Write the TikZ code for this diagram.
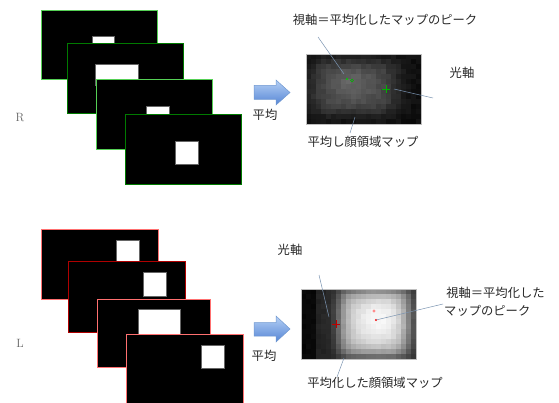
\documentclass[tikz,border=0pt]{standalone}
\usepackage{fontspec}
\newfontfamily\jp{Noto Sans CJK JP}
\usetikzlibrary{calc}
\definecolor{gLight}{HTML}{55D055}
\definecolor{gDark}{HTML}{007A00}
\definecolor{rLight}{HTML}{FF7070}
\definecolor{rDark}{HTML}{B00000}
\definecolor{leader}{HTML}{7A93B0}
\definecolor{arrTop}{HTML}{B5D0F5}
\definecolor{arrBot}{HTML}{5585D5}
\definecolor{arrLine}{HTML}{7098D0}
\tikzset{
  frame/.style={fill=black,line width=0.9pt},
  hole/.style={fill=white,draw=black!60,line width=0.6pt},
  jlabel/.style={font=\jp\fontsize{12.3}{15}\selectfont,text=black!85,inner sep=0pt},
  side/.style={font=\fontsize{12}{14}\selectfont,text=black!60,inner sep=0pt},
  lead/.style={draw=leader,line width=0.5pt},
  bigarrow/.style={top color=arrTop,bottom color=arrBot,draw=arrLine,line width=0.5pt}
}
\begin{document}
\begin{tikzpicture}[x=1pt,y=-1pt]
\useasboundingbox (0,0) rectangle (559,403);
\pgfmathsetseed{7}
% ---------- R frames
\draw[frame,draw=gLight] (41,10) rectangle (157,79);
\draw[hole] (92,36) rectangle (114,48);
\draw[frame,draw=gDark] (67,43) rectangle (183,113);
\draw[hole] (95,64) rectangle (138,85);
\draw[frame,draw=gLight] (96,79) rectangle (212,149);
\draw[hole] (146,106) rectangle (169,118);
\draw[frame,draw=gDark] (125,114) rectangle (241,184);
\draw[hole] (175,141) rectangle (198,164);
\node[side] (R) at (20,118) {R};
% ---------- L frames
\draw[frame,draw=rLight] (41,229) rectangle (158,299);
\draw[hole] (116,240) rectangle (139,264);
\draw[frame,draw=rDark] (68,261) rectangle (185,332);
\draw[hole] (143,272) rectangle (166,296);
\draw[frame,draw=rLight] (97,299) rectangle (210,367);
\draw[hole] (138,309) rectangle (180,340);
\draw[frame,draw=rLight] (126,334) rectangle (243,406);
\draw[hole] (201,345) rectangle (224,368);
\node[side] (L) at (20,343) {L};
% ---------- arrows
\shadedraw[bigarrow] (254,85.5) -- (276,85.5) -- (276,80) -- (290,92.5) -- (276,105) -- (276,99.5) -- (254,99.5) -- cycle;
\shadedraw[bigarrow] (254,322.5) -- (276,322.5) -- (276,316) -- (290,329) -- (276,342) -- (276,336) -- (254,336) -- cycle;
\node[jlabel] (avgR) at (265,115) {平均};
\node[jlabel] (avgL) at (264,356) {平均};
% ---------- top heat map
\foreach \i in {0,...,22}{\foreach \j in {0,...,13}{
  \pgfmathsetmacro{\cx}{306+5*\i+2.5}
  \pgfmathsetmacro{\cy}{54+5*\j+2.5}
  \pgfmathsetmacro{\v}{100*min(1,0.03+0.26*exp(-((\cx-354)/44)^4-((\cy-87)/28)^4)+0.08*exp(-((\cx-350)/16)^2-((\cy-82)/15)^2)+0.05*rnd)}
  \fill[white!\v!black] ({306+5*\i},{54+5*\j}) rectangle ++(5.2,5.2);
}}
\draw[black!25,line width=0.4pt] (306,54) rectangle (421,124);
% ---------- bottom heat map
\foreach \i in {0,...,22}{\foreach \j in {0,...,13}{
  \pgfmathsetmacro{\cx}{301+5*\i+2.5}
  \pgfmathsetmacro{\cy}{289+5*\j+2.5}
  \pgfmathsetmacro{\v}{100*min(1,0.01+0.10*(\cx>318)+0.50*exp(-((\cx-374)/36)^6-((\cy-323)/34)^6)+0.35*exp(-((\cx-378)^2+(\cy-320)^2)/1200)+0.03*rnd)}
  \fill[white!\v!black] ({301+5*\i},{289+5*\j}) rectangle ++(5.2,5.2);
}}
\draw[black!25,line width=0.4pt] (301,289) rectangle (416,359);
% ---------- top markers and labels
\coordinate (gpeak) at (347,79);
\coordinate (gax) at (386,89);
\fill[green!80!black] (gpeak) circle (1.2);
\draw[green!70!black,line width=0.4pt] (352,80.5) circle (1.5);
\draw[green!70!black,line width=0.45pt] ($(gax)+(-4,0)$) -- ($(gax)+(4,0)$) ($(gax)+(0,-4)$) -- ($(gax)+(0,4)$);
\node[jlabel] (visR) at (385,20) {視軸＝平均化したマップのピーク};
\node[jlabel] (optR) at (462,73) {光軸};
\node[jlabel] (mapR) at (363,142) {平均し顔領域マップ};
\coordinate (visRend) at (318,37);
\coordinate (optRend) at (433,98);
\coordinate (mapRtop) at (355,117);
\coordinate (mapRbot) at (350,133);
\draw[lead] (visRend) -- (344,74);
\draw[lead] (394,89) -- (optRend);
\draw[lead] (mapRtop) -- (mapRbot);
% ---------- bottom markers and labels
\coordinate (rax) at (336,324);
\coordinate (rpeak) at (376,320);
\draw[red!75!black,line width=0.4pt] ($(rax)+(-4,0)$) -- ($(rax)+(4,0)$) ($(rax)+(0,-4)$) -- ($(rax)+(0,4)$);
\fill[red!45] (374,311) circle (1.6);
\fill[red] (rpeak) circle (1.2);
\node[jlabel] (optL) at (290,250) {光軸};
\node[jlabel,anchor=west,align=left,font=\jp\fontsize{12.3}{18}\selectfont] (visL) at (444,302) {\,視軸＝平均化した\\マップのピーク};
\node[jlabel] (mapL) at (375,383) {平均化した顔領域マップ};
\coordinate (optLend) at (319,275);
\coordinate (visLend) at (443,304);
\draw[lead] (optLend) -- (329,317);
\draw[lead] (rpeak) -- (visLend);
\draw[lead] (344,358) -- (337,377);
\end{tikzpicture}
\end{document}
